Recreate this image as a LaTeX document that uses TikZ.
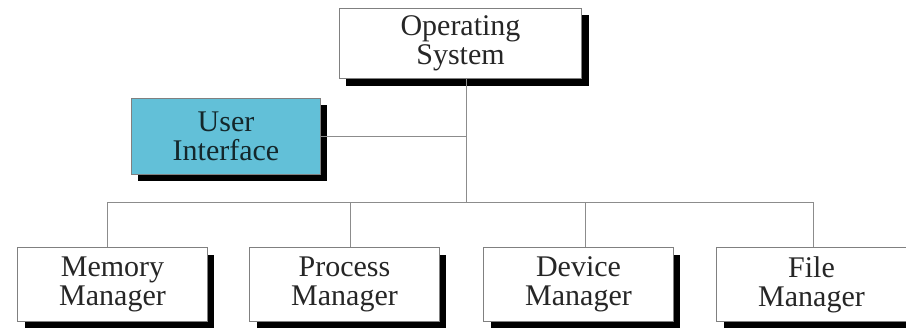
\documentclass[tikz,border=0pt]{standalone}
\usepackage{fontspec}
\setmainfont{Liberation Serif}
\usepackage{tikz}
\usetikzlibrary{shadows}
\definecolor{uicyan}{RGB}{98,192,216}
\tikzset{
  osbox/.style={draw=black!50, line width=0.6pt, fill=white, inner sep=0pt,
    align=center, text=black!85, font=\fontsize{22.5}{21.5}\selectfont,
    minimum width=142pt, minimum height=56pt,
    general shadow={fill=black, shadow xshift=5pt, shadow yshift=-5.5pt}},
  link/.style={draw=black!45, line width=0.6pt}
}
\begin{document}
\begin{tikzpicture}[x=0.75pt,y=0.75pt,yscale=-1,xscale=1]
\useasboundingbox (0,0) rectangle (906,328);

% Boxes
\node [osbox, minimum width=182pt, minimum height=53pt] (os) at (460.5,43.5) {Operating\\System};
\node [osbox, fill=uicyan, text=black!80!uicyan, minimum height=57pt] (ui) at (226,136) {User\\Interface};
\node [osbox] (mem) at (112.5,284.5) {Memory\\Manager};
\node [osbox] (proc) at (344.5,284.5) {Process\\Manager};
\node [osbox] (dev) at (578.5,284.5) {Device\\Manager};
\node [osbox] (file) at (811.5,284.5) {File\\Manager};

% Bus points
\coordinate (hub) at (466,202);
\coordinate (dmem) at (107,202);
\coordinate (dproc) at (350,202);
\coordinate (ddev) at (585,202);
\coordinate (dfile) at (813,202);

%Straight Lines
\draw [link] (os.south -| hub) -- (hub);
\draw [link] (ui.east) -- (ui.east -| hub);
\draw [link] (dmem) -- (dfile);
\draw [link] (dmem) -- (dmem |- mem.north);
\draw [link] (dproc) -- (dproc |- proc.north);
\draw [link] (ddev) -- (ddev |- dev.north);
\draw [link] (dfile) -- (dfile |- file.north);
\end{tikzpicture}
\end{document}
